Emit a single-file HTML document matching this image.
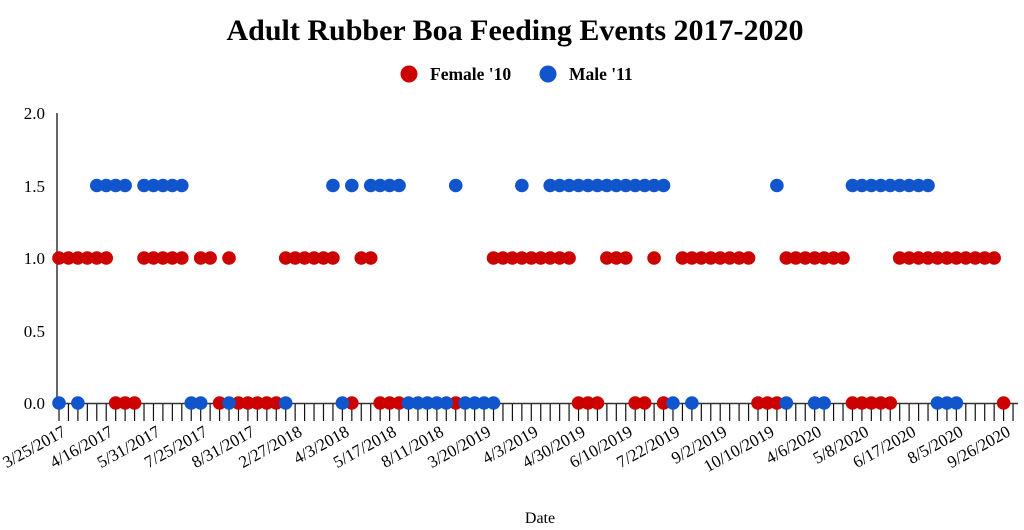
<!DOCTYPE html>
<html><head><meta charset="utf-8"><style>
body{margin:0;background:#fff;}
svg{display:block;font-family:"Liberation Serif",serif;}
</style></head><body>
<svg id="s" width="1024" height="530" viewBox="0 0 1024 530" xmlns="http://www.w3.org/2000/svg">
<rect width="1024" height="530" fill="#fff"/>
<text x="515" y="40" text-anchor="middle" font-size="30" font-weight="bold">Adult Rubber Boa Feeding Events 2017-2020</text>
<circle cx="409" cy="74" r="8.5" fill="#cc0000"/>
<text x="430" y="80" font-size="17.5" font-weight="bold">Female '10</text>
<circle cx="548" cy="74" r="8.5" fill="#1155cc"/>
<text x="569" y="80" font-size="17.5" font-weight="bold">Male '11</text>
<g font-size="17" text-anchor="end">
<text x="45" y="119">2.0</text>
<text x="45" y="192">1.5</text>
<text x="45" y="264">1.0</text>
<text x="45" y="337">0.5</text>
<text x="45" y="409">0.0</text>
</g>
<line x1="57" y1="113" x2="57" y2="404" stroke="#333" stroke-width="1.5"/>
<line x1="57" y1="403.5" x2="1018" y2="403.5" stroke="#333" stroke-width="1.5"/>
<g id="ticks" stroke="#111" stroke-width="1.2"></g>
<g id="labels" font-size="17" text-anchor="end"></g>
<g id="dots"></g>
<text x="540" y="523" text-anchor="middle" font-size="16">Date</text>
</svg>
<script>
var NS="http://www.w3.org/2000/svg";
function X(i){return 59+9.446*i;}
var t=document.getElementById("ticks");
for(var i=0;i<102;i++){var l=document.createElementNS(NS,"line");l.setAttribute("x1",X(i));l.setAttribute("x2",X(i));l.setAttribute("y1",404);l.setAttribute("y2",421);t.appendChild(l);}
var labs=["3/25/2017","4/16/2017","5/31/2017","7/25/2017","8/31/2017","2/27/2018","4/3/2018","5/17/2018","8/11/2018","3/20/2019","4/3/2019","4/30/2019","6/10/2019","7/22/2019","9/2/2019","10/10/2019","4/6/2020","5/8/2020","6/17/2020","8/5/2020","9/26/2020"];
var lg=document.getElementById("labels");
labs.forEach(function(s,k){var x=X(k*5)+8,y=435;var e=document.createElementNS(NS,"text");e.setAttribute("x",x);e.setAttribute("y",y);e.setAttribute("transform","rotate(-29 "+x+" "+y+")");e.textContent=s;lg.appendChild(e);});
function rng(a,b){var r=[];for(var i=a;i<=b;i++)r.push(i);return r;}
var red1=[].concat(rng(0,5),rng(9,13),[15,16,18],rng(24,29),[32,33],rng(46,54),[58,59,60,63],rng(66,73),rng(77,83),rng(89,99));
var red0=[6,7,8,17,19,20,21,22,23,31,34,35,36,42,55,56,57,61,62,64,74,75,76,84,85,86,87,88,100];
var blue15=[].concat(rng(4,7),rng(9,13),[29,31],rng(33,36),[42,49],rng(52,64),[76],rng(84,92));
var blue0=[0,2,14,15,18,24,30,37,38,39,40,41,43,44,45,46,65,67,77,80,81,93,94,95];
var d=document.getElementById("dots");
function dot(i,v,c){var e=document.createElementNS(NS,"circle");e.setAttribute("cx",X(i));e.setAttribute("cy",403-145*v);e.setAttribute("r",6.8);e.setAttribute("fill",c);d.appendChild(e);}
red1.forEach(function(i){dot(i,1,"#cc0000");});
red0.forEach(function(i){dot(i,0,"#cc0000");});
blue15.forEach(function(i){dot(i,1.5,"#1155cc");});
blue0.forEach(function(i){dot(i,0,"#1155cc");});
</script>
</body></html>
